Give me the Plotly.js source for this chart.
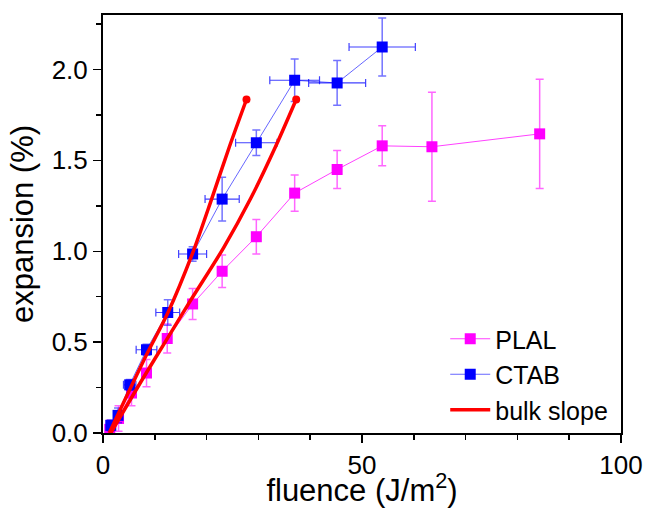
<!DOCTYPE html>
<html>
<head>
<meta charset="utf-8">
<script src="https://cdn.plot.ly/plotly-3.0.1.min.js"></script>
<style>html,body{margin:0;padding:0;background:#fff;}#chart{width:646px;height:508px;}</style>
</head>
<body>
<div id="chart"></div>
<script>
// PLAL series
const plalX = [1.3, 3.0, 5.5, 8.4, 12.4, 17.3, 23.0, 29.6, 37.0, 45.2, 53.9, 63.5, 84.3];
const plalY = [0.02, 0.08, 0.22, 0.33, 0.52, 0.71, 0.89, 1.08, 1.32, 1.45, 1.58, 1.575, 1.646];
const plalYErr = [0.05, 0.07, 0.07, 0.075, 0.08, 0.085, 0.09, 0.095, 0.10, 0.105, 0.11, 0.30, 0.30];

// CTAB series
const ctabX = [1.5, 2.9, 5.15, 8.4, 12.5, 17.3, 23.0, 29.6, 37.0, 45.2, 53.9];
const ctabY = [0.042, 0.097, 0.265, 0.458, 0.663, 0.985, 1.287, 1.597, 1.941, 1.926, 2.124];
const ctabYErr = [0.03, 0.04, 0.03, 0.03, 0.07, 0.04, 0.12, 0.07, 0.117, 0.123, 0.16];
const ctabXErr = [0.4, 0.7, 1.2, 2.0, 2.3, 2.7, 3.3, 4.0, 4.8, 5.5, 6.4];

// bulk slope curves
const bulk1X = [1.2, 8.4, 12.5, 17.3, 21.0, 24.4, 27.7];
const bulk1Y = [0, 0.43, 0.66, 0.99, 1.29, 1.575, 1.835];
const bulk2X = [1.5, 7.7, 12.2, 16.7, 23.3, 28.5, 33.3, 37.3];
const bulk2Y = [0, 0.3, 0.51, 0.72, 1.02, 1.29, 1.575, 1.835];

const legendNames = ["PLAL", "CTAB", "bulk slope"];

const traces = [
  {
    x: plalX, y: plalY, name: legendNames[0], type: "scatter", mode: "lines+markers",
    line: {color: "rgba(255,0,255,0.75)", width: 1},
    marker: {symbol: "square", size: 11, color: "#ff00ff"},
    error_y: {type: "data", array: plalYErr, visible: true, color: "rgba(255,0,255,0.6)", thickness: 1.5, width: 4}
  },
  {
    x: ctabX, y: ctabY, name: legendNames[1], type: "scatter", mode: "lines+markers",
    line: {color: "rgba(0,0,255,0.6)", width: 1},
    marker: {symbol: "square", size: 11, color: "#0000ff"},
    error_y: {type: "data", array: ctabYErr, visible: true, color: "rgba(0,0,255,0.55)", thickness: 1.5, width: 4},
    error_x: {type: "data", array: ctabXErr, visible: true, color: "rgba(0,0,255,0.75)", thickness: 1.2, width: 4}
  },
  {
    x: bulk1X, y: bulk1Y, name: legendNames[2], type: "scatter", mode: "lines",
    line: {color: "#ff0000", width: 3.5, shape: "spline", smoothing: 0.8}
  },
  {
    x: bulk2X, y: bulk2Y, name: legendNames[2], type: "scatter", mode: "lines", showlegend: false,
    line: {color: "#ff0000", width: 3.5, shape: "spline", smoothing: 0.8}
  },
  {
    x: [bulk1X[bulk1X.length-1], bulk2X[bulk2X.length-1]],
    y: [bulk1Y[bulk1Y.length-1], bulk2Y[bulk2Y.length-1]],
    type: "scatter", mode: "markers", showlegend: false,
    marker: {symbol: "circle", size: 8, color: "#ff0000"}
  }
];

const font = {family: "Liberation Sans, Arial, sans-serif", color: "#000"};

const layout = {
  width: 646, height: 508,
  margin: {l: 103, r: 25, t: 15, b: 75},
  paper_bgcolor: "#fff", plot_bgcolor: "#fff",
  font: Object.assign({size: 26}, font),
  showlegend: true,
  legend: {
    x: 0.985, y: 0.0, xanchor: "right", yanchor: "bottom",
    bgcolor: "rgba(0,0,0,0)", borderwidth: 0,
    font: Object.assign({size: 25}, font),
    itemwidth: 40, tracegroupgap: 0
  },
  xaxis: {
    range: [0, 100], dtick: 50, tick0: 0,
    ticks: "outside", ticklen: 8, tickwidth: 1.5, tickcolor: "#000",
    minor: {dtick: 10, ticks: "outside", ticklen: 5, tickwidth: 1.5, tickcolor: "#000"},
    showline: true, linecolor: "#000", linewidth: 2, mirror: true,
    showgrid: false, zeroline: false,
    tickfont: Object.assign({size: 26}, font),
    title: {text: "fluence (J/m<sup>2</sup>)", font: Object.assign({size: 31}, font), standoff: 6}
  },
  yaxis: {
    range: [0, 2.3], dtick: 0.5, tick0: 0, tickformat: ".1f",
    ticks: "outside", ticklen: 8, tickwidth: 1.5, tickcolor: "#000",
    minor: {dtick: 0.25, ticks: "outside", ticklen: 5, tickwidth: 1.5, tickcolor: "#000"},
    showline: true, linecolor: "#000", linewidth: 2, mirror: true,
    showgrid: false, zeroline: false,
    tickfont: Object.assign({size: 26}, font),
    title: {text: "expansion (%)", font: Object.assign({size: 31}, font), standoff: 9}
  }
};

Plotly.newPlot("chart", traces, layout, {displayModeBar: false, staticPlot: true});
</script>
</body>
</html>
